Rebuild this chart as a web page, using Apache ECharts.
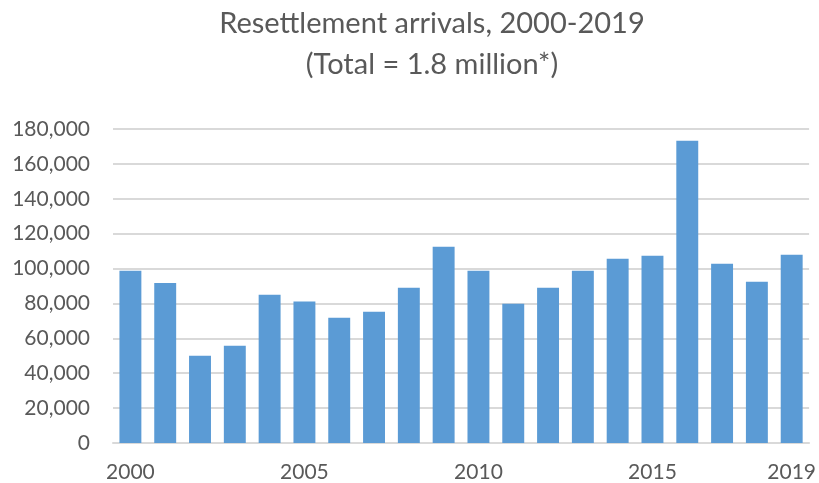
<!DOCTYPE html>
<html>
<head>
<meta charset="utf-8">
<script src="https://cdn.jsdelivr.net/npm/echarts@6/dist/echarts.min.js"></script>
<style>
  html, body { margin: 0; padding: 0; background: #ffffff; }
  #chart { width: 819px; height: 483px; }
</style>
</head>
<body>
<div id="chart"></div>
<script>
// Annual resettlement arrivals, 2000-2019
const years = ['2000','2001','2002','2003','2004','2005','2006','2007','2008','2009',
               '2010','2011','2012','2013','2014','2015','2016','2017','2018','2019'];
const arrivals = [98700, 91700, 50000, 55800, 85000, 81100, 71800, 75200, 89000, 112500,
                  98700, 79800, 89000, 98700, 105600, 107300, 173200, 102800, 92500, 107900];
const labelledYears = ['2000', '2005', '2010', '2015', '2019'];
const titleLines = ['Resettlement arrivals, 2000-2019', '(Total = 1.8 million*)'];

const FONT = 'Lato';
const TEXT = '#595959';
const GRID = '#d9d9d9';

const chart = echarts.init(document.getElementById('chart'), null, { renderer: 'canvas' });
chart.setOption({
  backgroundColor: '#ffffff',
  animation: false,
  title: {
    text: titleLines.join('\n'),
    left: 432,
    textAlign: 'center',
    top: 3,
    padding: 0,
    textStyle: {
      fontFamily: FONT,
      fontSize: 29,
      fontWeight: 'normal',
      color: TEXT,
      lineHeight: 41
    }
  },
  grid: { left: 113, right: 8, top: 129, bottom: 40, containLabel: false },
  xAxis: {
    type: 'category',
    data: years,
    axisLine: { show: true, lineStyle: { color: GRID, width: 2 } },
    axisTick: { show: false },
    axisLabel: {
      interval: (idx, val) => labelledYears.includes(val),
      fontFamily: FONT,
      fontSize: 21,
      color: TEXT,
      margin: 19
    }
  },
  yAxis: {
    type: 'value',
    min: 0,
    max: 180000,
    interval: 20000,
    axisLine: { show: false },
    axisTick: { show: false },
    splitLine: { lineStyle: { color: GRID, width: 2 } },
    axisLabel: {
      fontFamily: FONT,
      fontSize: 21,
      color: TEXT,
      margin: 23,
      formatter: v => v.toLocaleString('en-US')
    }
  },
  series: [{
    type: 'bar',
    data: arrivals,
    barCategoryGap: '37%',
    itemStyle: { color: '#5b9bd5' }
  }]
});
</script>
</body>
</html>
